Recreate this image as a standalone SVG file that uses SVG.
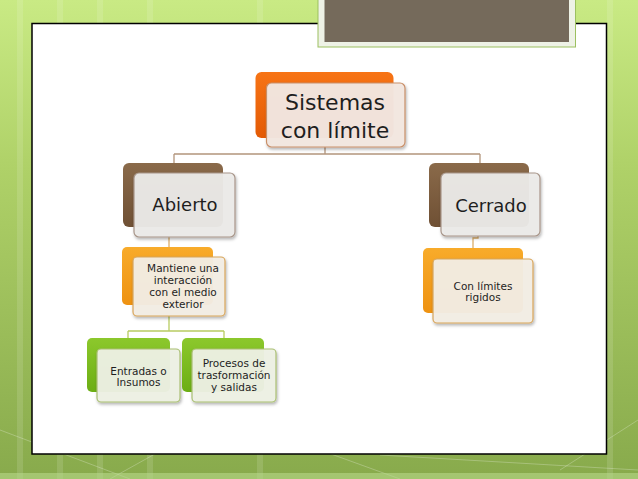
<svg xmlns="http://www.w3.org/2000/svg" width="638" height="479" viewBox="0 0 638 479">
<defs>
<linearGradient id="bg" x1="0" y1="0" x2="0" y2="1">
<stop offset="0" stop-color="#c9ea84"/>
<stop offset="0.35" stop-color="#afd168"/>
<stop offset="1" stop-color="#88aa4c"/>
</linearGradient>
<linearGradient id="gOrange" x1="0" y1="0" x2="0" y2="1">
<stop offset="0" stop-color="#f77415"/>
<stop offset="1" stop-color="#e35a05"/>
</linearGradient>
<linearGradient id="gBrown" x1="0" y1="0" x2="0" y2="1">
<stop offset="0" stop-color="#8a6a4a"/>
<stop offset="1" stop-color="#6f5034"/>
</linearGradient>
<linearGradient id="gAmber" x1="0" y1="0" x2="0" y2="1">
<stop offset="0" stop-color="#f8ab2a"/>
<stop offset="1" stop-color="#ee9212"/>
</linearGradient>
<linearGradient id="gGreen" x1="0" y1="0" x2="0" y2="1">
<stop offset="0" stop-color="#8cc82c"/>
<stop offset="1" stop-color="#6cae14"/>
</linearGradient>
<filter id="sh" x="-20%" y="-20%" width="140%" height="140%">
<feDropShadow dx="1" dy="2" stdDeviation="1.5" flood-color="#000" flood-opacity="0.3"/>
</filter>
</defs>
<style>
.back{stroke:none;}
.front{stroke-width:1.2;filter:url(#sh);}
.t{font-family:"DejaVu Sans","Liberation Sans",sans-serif;fill:#1e1e1e;text-anchor:middle;}
.big{font-size:22px;}
.mid{font-size:18px;}
.sm{font-size:10.5px;}
.conn{fill:none;stroke-width:1.3;}
</style>
<!-- background -->
<rect x="0" y="0" width="638" height="479" fill="url(#bg)"/>
<g stroke="#ffffff" stroke-opacity="0.12" stroke-width="6" fill="none">
<line x1="20" y1="0" x2="20" y2="479"/>
<line x1="60" y1="0" x2="60" y2="479"/>
<line x1="100" y1="0" x2="100" y2="479"/>
<line x1="150" y1="0" x2="150" y2="479"/>
<line x1="260" y1="0" x2="260" y2="479"/>
<line x1="610" y1="0" x2="610" y2="479"/>
</g>
<g stroke="#ffffff" stroke-opacity="0.25" stroke-width="1" fill="none">
<line x1="0" y1="430" x2="130" y2="479"/>
<line x1="110" y1="479" x2="180" y2="440"/>
<line x1="320" y1="450" x2="400" y2="479"/>
<line x1="380" y1="455" x2="638" y2="470"/>
<line x1="560" y1="470" x2="638" y2="420"/>
</g>
<rect x="0" y="473" width="638" height="6" fill="#b8d98a" opacity="0.6"/>
<!-- panel -->
<rect x="32" y="23.5" width="574.5" height="430.5" fill="#ffffff" stroke="#000000" stroke-width="1.5"/>
<!-- title block -->
<rect x="318" y="-2" width="257.5" height="49" fill="#eef2e6" stroke="#9cc060" stroke-width="1"/>
<rect x="324.5" y="-2" width="244.5" height="44" fill="#756a5b"/>
<!-- connectors -->
<g id="connectors">
<path class="conn" stroke="#b3957c" d="M325,147 V154 M174,154 H480 M174,154 V163 M480,154 V163"/>
<path class="conn" stroke="#dcae6a" d="M169,237 V247"/>
<path class="conn" stroke="#dcae6a" d="M478,236 V238 H473 V248"/>
<path class="conn" stroke="#b8cc62" d="M169,316 V331 M128,331 H224 M128,331 V338 M224,331 V338"/>
</g>
<!-- root -->
<g id="root">
<rect class="back" x="255.5" y="72" width="138" height="66" rx="6" fill="url(#gOrange)"/>
<rect class="front" x="266.5" y="83" width="138.5" height="64" rx="5" fill="#f3e7e1" fill-opacity="0.96" stroke="#c98f68"/>
<text class="t big" x="335" y="110">Sistemas</text>
<text class="t big" x="335" y="138">con límite</text>
</g>
<!-- Abierto -->
<g id="abierto">
<rect class="back" x="123" y="163" width="100" height="64" rx="6" fill="url(#gBrown)"/>
<rect class="front" x="134" y="173" width="101" height="64" rx="5" fill="#ecebe9" fill-opacity="0.95" stroke="#a8968a"/>
<text class="t mid" x="185" y="211">Abierto</text>
</g>
<!-- Cerrado -->
<g id="cerrado">
<rect class="back" x="429" y="163" width="100" height="64" rx="6" fill="url(#gBrown)"/>
<rect class="front" x="441" y="173" width="99" height="63" rx="5" fill="#ecebe9" fill-opacity="0.95" stroke="#a8968a"/>
<text class="t mid" x="491" y="212">Cerrado</text>
</g>
<!-- Mantiene -->
<g id="mantiene">
<rect class="back" x="122" y="247" width="91" height="58" rx="5" fill="url(#gAmber)"/>
<rect class="front" x="133" y="257" width="92" height="59" rx="4" fill="#f3eee5" fill-opacity="0.95" stroke="#d8a55a"/>
<text class="t sm" x="183" y="272">Mantiene una</text>
<text class="t sm" x="183" y="284">interacción</text>
<text class="t sm" x="183" y="296">con el medio</text>
<text class="t sm" x="183" y="307.5">exterior</text>
</g>
<!-- Con limites -->
<g id="conlimites">
<rect class="back" x="423" y="248" width="100" height="65" rx="5" fill="url(#gAmber)"/>
<rect class="front" x="433" y="259" width="100" height="64" rx="4" fill="#f3eee5" fill-opacity="0.95" stroke="#d8a55a"/>
<text class="t sm" x="483" y="290">Con límites</text>
<text class="t sm" x="483" y="301">rigidos</text>
</g>
<!-- Entradas -->
<g id="entradas">
<rect class="back" x="87" y="338" width="83" height="54" rx="5" fill="url(#gGreen)"/>
<rect class="front" x="97" y="349" width="83" height="53" rx="4" fill="#eef1e5" fill-opacity="0.95" stroke="#a9bf72"/>
<text class="t sm" x="138.5" y="375">Entradas o</text>
<text class="t sm" x="138.5" y="386">Insumos</text>
</g>
<!-- Procesos -->
<g id="procesos">
<rect class="back" x="182" y="338" width="82" height="54" rx="5" fill="url(#gGreen)"/>
<rect class="front" x="192" y="349" width="84" height="53" rx="4" fill="#eef1e5" fill-opacity="0.95" stroke="#a9bf72"/>
<text class="t sm" x="234" y="367">Procesos de</text>
<text class="t sm" x="234" y="379">trasformación</text>
<text class="t sm" x="234" y="390.5">y salidas</text>
</g>
</svg>
